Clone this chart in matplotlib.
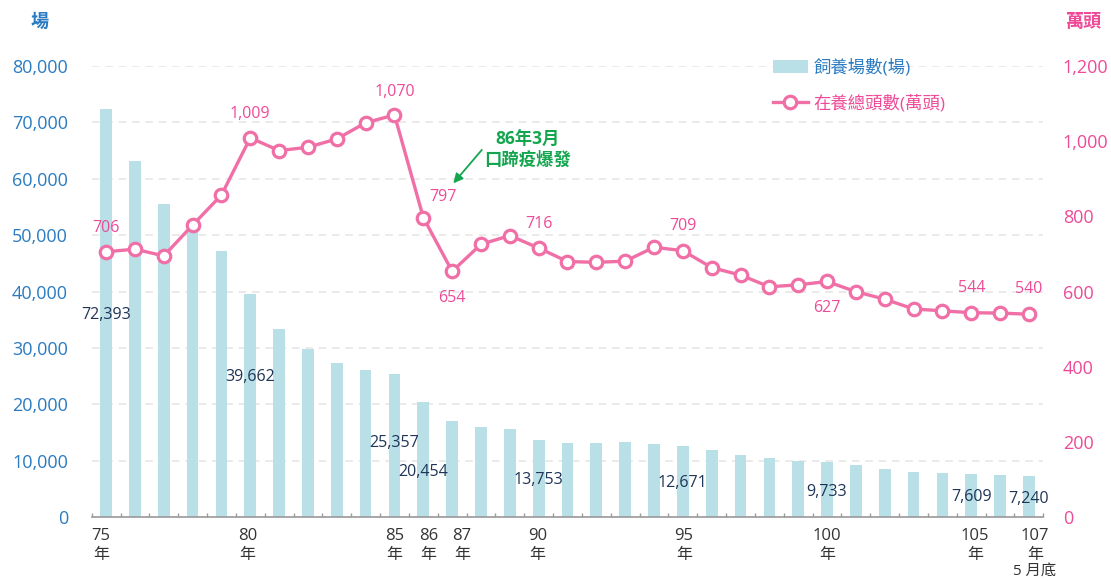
import numpy as np
import matplotlib
matplotlib.use("Agg")
import matplotlib.pyplot as plt
from matplotlib.lines import Line2D
from matplotlib.patches import Patch

plt.rcParams['font.family'] = ['Open Sans', 'Noto Sans CJK TC', 'DejaVu Sans']

# 民國年 75 ~ 107(5月底)
years = list(range(75, 108))
# 飼養場數(場)
farms = [72393, 63200, 55600, 51700, 47200, 39662, 33300, 29750, 27350, 26150,
         25357, 20454, 17050, 15950, 15600, 13753, 13100, 13200, 13400, 13000,
         12671, 11900, 11100, 10550, 10050, 9733, 9300, 8550, 8050, 7800,
         7609, 7440, 7240]
# 在養總頭數(萬頭)
heads = [706, 713, 695, 777, 857, 1009, 975, 984, 1006, 1049,
         1070, 797, 654, 726, 749, 716, 680, 678, 681, 718,
         709, 664, 644, 613, 618, 627, 600, 580, 554, 549,
         544, 543, 540]

tick_years = [75, 80, 85, 86, 87, 90, 95, 100, 105, 107]
farm_label_years = [75, 80, 85, 86, 90, 95, 100, 105, 107]
head_label_years = [75, 80, 85, 86, 87, 90, 95, 100, 105, 107]

# layout (label placement)
farm_label_y = [35870, 24840, 13120, 7980, 6610, 6130, 4540, 3550, 3300]
head_label_off = [(0, 24), (0, 24), (0, 23), (20, 21), (0, -27),
                  (0, 24), (0, 25), (0, -27), (0, 25), (0, 25)]
tick_dx = [-5, -3, 0, 5, 10, -1, 1, 0, 4, 6]

BAR_C = '#b9dfe7'
LINE_C = '#f06fa6'
PINK_T = '#ee4a98'
BLUE_T = '#2a7bc2'
NAVY_T = '#1f3557'
GREEN_T = '#14a64f'

W, H = 1111, 581
fig = plt.figure(figsize=(W / 100, H / 100), dpi=100)
ax = fig.add_axes([91.7 / W, 1 - 517.3 / H, (1043.3 - 91.7) / W, (517.3 - 66) / H])
ax2 = ax.twinx()

x = np.arange(len(years))
ax.bar(x, farms, width=0.405, color=BAR_C, zorder=2)
ax.set_xlim(-0.5, len(years) - 0.5)
ax.set_ylim(0, 80000)
ax.set_yticks(range(0, 80001, 10000))
ax.set_yticklabels([f'{v:,}' for v in range(0, 80001, 10000)], color=BLUE_T, fontsize=13)
ax.tick_params(axis='y', length=0, pad=17)
ax.set_axisbelow(True)
ax.yaxis.grid(True, color='#e6e6e6', linestyle=(0, (4.5, 3.5)), linewidth=1.2)

ax.set_xticks(np.arange(-0.5, len(years), 1))
ax.set_xticklabels([])
ax.tick_params(axis='x', direction='in', length=3, color='#999999', width=1)
for s in ['top', 'right', 'left']:
    ax.spines[s].set_visible(False)
    ax2.spines[s].set_visible(False)
ax2.spines['bottom'].set_visible(False)
ax.spines['bottom'].set_color('#999999')
ax.spines['bottom'].set_linewidth(1.2)

for yr, dx in zip(tick_years, tick_dx):
    i = years.index(yr)
    ax.annotate(str(yr), xy=(i, 0), xycoords=('data', 'axes fraction'),
                xytext=(dx, -19), textcoords='offset pixels',
                ha='center', va='center', fontsize=12, color='#333333')
    ax.annotate('年', xy=(i, 0), xycoords=('data', 'axes fraction'),
                xytext=(dx, -38), textcoords='offset pixels',
                ha='center', va='center', fontsize=11.5, color='#333333')
i = years.index(107)
ax.annotate('5 月底', xy=(i, 0), xycoords=('data', 'axes fraction'),
            xytext=(6, -54), textcoords='offset pixels',
            ha='center', va='center', fontsize=11, color='#333333')

for yr, ly in zip(farm_label_years, farm_label_y):
    i = years.index(yr)
    ax.text(i, ly, f'{farms[i]:,}', ha='center', va='center',
            fontsize=11.5, color=NAVY_T, zorder=5)

ax2.plot(x, heads, color=LINE_C, linewidth=2.4, marker='o', markersize=9,
         markerfacecolor='white', markeredgecolor=LINE_C, markeredgewidth=2.3, zorder=3)
ax2.set_ylim(0, 1200)
ax2.set_yticks(range(0, 1201, 200))
ax2.set_yticklabels([f'{v:,}' for v in range(0, 1201, 200)], color=PINK_T, fontsize=13)
ax2.tick_params(axis='y', length=0, pad=14)

for yr, (dx, dy) in zip(head_label_years, head_label_off):
    i = years.index(yr)
    ax2.annotate(f'{heads[i]:,}', xy=(i, heads[i]), xytext=(dx, dy),
                 textcoords='offset pixels', ha='center', va='center',
                 fontsize=11.5, color=PINK_T)

# 口蹄疫 annotation
ax2.annotate('', xy=(12.04, 888), xytext=(13.03, 977),
             arrowprops=dict(arrowstyle='-|>', color=GREEN_T, lw=1.3,
                             mutation_scale=14, shrinkA=0, shrinkB=0))
ax2.text(14.63, 977, '86年3月\n口蹄疫爆發', ha='center', va='center',
         fontsize=12.5, color=GREEN_T, fontweight='bold', linespacing=1.15)

fig.text(40 / W, 1 - 22 / H, '場', ha='center', va='center', fontsize=13,
         color=BLUE_T, fontweight='bold')
fig.text(1083 / W, 1 - 22 / H, '萬頭', ha='center', va='center', fontsize=13,
         color=PINK_T, fontweight='bold')

handles = [Patch(facecolor=BAR_C, edgecolor='none'),
           Line2D([], [], color=LINE_C, linewidth=2.4, marker='o', markersize=9,
                  markerfacecolor='white', markeredgecolor=LINE_C, markeredgewidth=2.3)]
leg = fig.legend(handles, ['飼養場數(場)', '在養總頭數(萬頭)'], loc='upper left',
                 bbox_to_anchor=(773 / W, 1 - 59 / H), frameon=False, fontsize=12.5,
                 handlelength=2.0, handletextpad=0.35, labelspacing=1.05,
                 borderpad=0, borderaxespad=0)
leg.get_texts()[0].set_color(BLUE_T)
leg.get_texts()[1].set_color(PINK_T)

fig.savefig('out.png', dpi=100)
